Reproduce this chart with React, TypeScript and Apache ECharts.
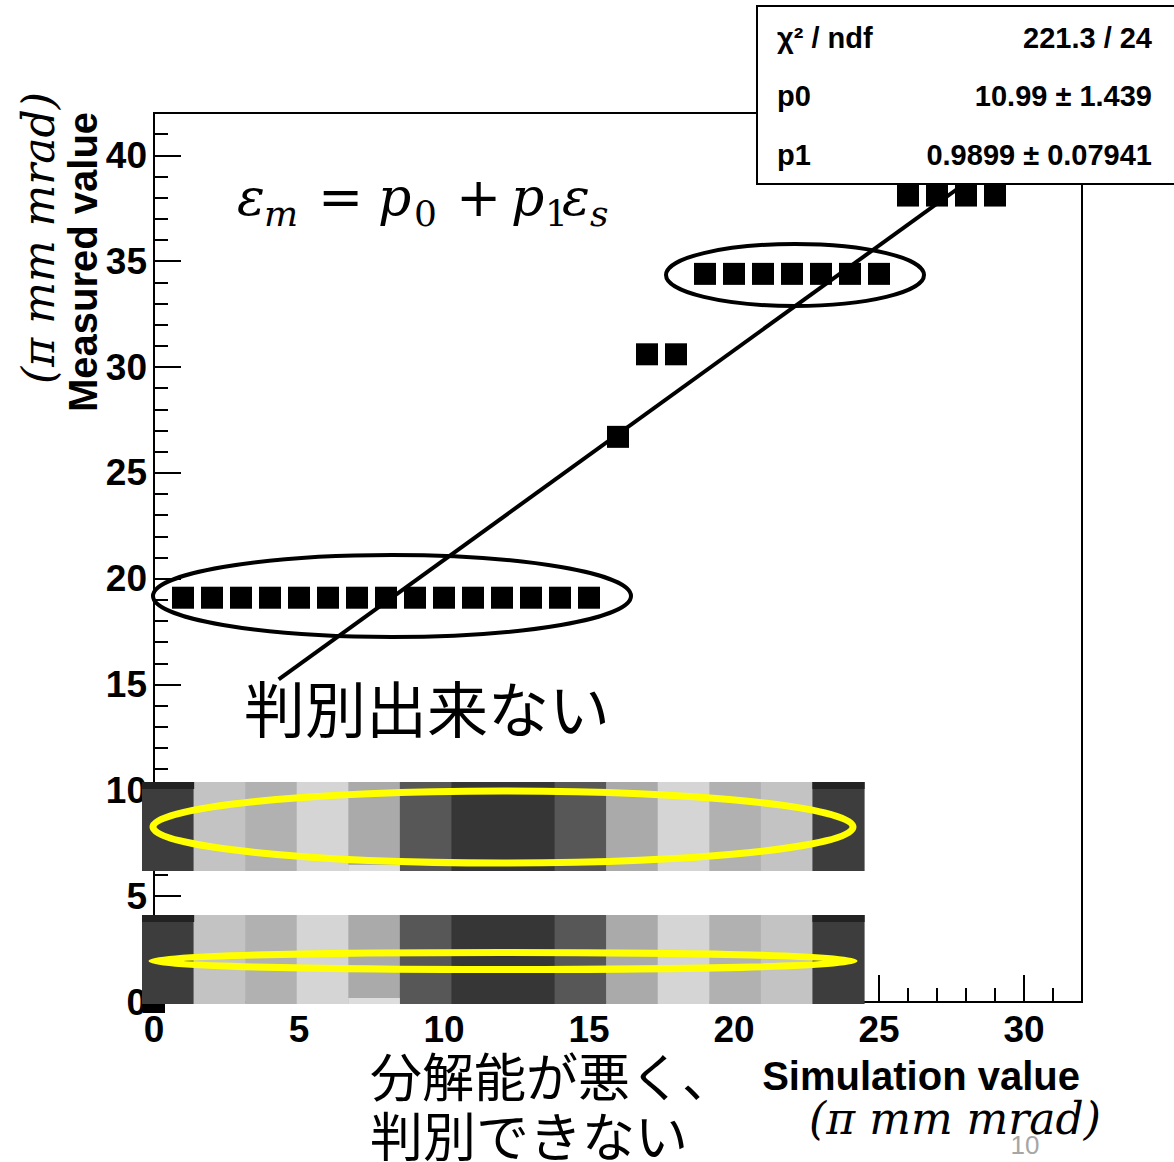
import React, { useEffect, useRef } from "react";
import * as echarts from "echarts";

// ---- data ----
const simX = [0, 1, 2, 3, 4, 5, 6, 7, 8, 9, 10, 11, 12, 13, 14, 15, 16, 17, 18, 19, 20, 21, 22, 23, 24, 25, 26, 27, 28, 29];
const measY = [0, 19.1, 19.1, 19.1, 19.1, 19.1, 19.1, 19.1, 19.1, 19.1, 19.1, 19.1, 19.1, 19.1, 19.1, 19.1, 26.7, 30.6, 30.6, 34.4, 34.4, 34.4, 34.4, 34.4, 34.4, 34.4, 38.1, 38.1, 38.1, 38.1];
const fitParams = [10.99, 0.9899]; // p0, p1
const fitRange = [4.3, 31.3];
const xRange = [0, 32];
const yRange = [0, 42];
const statsRows = [
  ["χ² / ndf", "221.3 / 24"],
  ["p0", "10.99 ± 1.439"],
  ["p1", "0.9899 ± 0.07941"],
];
const stripGrays = ["#3d3d3d", "#c3c3c3", "#b1b1b1", "#d5d5d5", "#aaaaaa", "#575757", "#363636", "#575757", "#aaaaaa", "#d5d5d5", "#b1b1b1", "#c3c3c3", "#3d3d3d"];
const stripWidthUnits = [1, 1, 1, 1, 1, 1, 2, 1, 1, 1, 1, 1, 1];

// ---- layout ----
const GRID = { left: 154, top: 113, width: 928, height: 889 };
const STRIP_X0 = 142;
const STRIP_X1 = 864;
const STRIPS_Y = [782, 915];
const STRIP_H = 89;

const ROOT_FONT = "'Liberation Sans', Arial, sans-serif";
const MATH_FONT = "'DejaVu Serif', serif";
const JP_FONT = "'Noto Sans CJK JP', sans-serif";

function buildStrips(): any[] {
  const els: any[] = [];
  const totalUnits = stripWidthUnits.reduce((a, b) => a + b, 0);
  const unitW = (STRIP_X1 - STRIP_X0) / totalUnits;
  STRIPS_Y.forEach((y0) => {
    let x = STRIP_X0;
    stripGrays.forEach((g, i) => {
      const w = unitW * stripWidthUnits[i];
      els.push({
        type: "rect",
        z: 50,
        shape: { x: x, y: y0, width: w + 0.6, height: STRIP_H },
        style: { fill: g },
      });
      if (i === 0 || i === stripGrays.length - 1) {
        els.push({
          type: "rect",
          z: 51,
          shape: { x: x, y: y0, width: w + 0.6, height: 7 },
          style: { fill: "#222222" },
        });
      }
      if (i === 4) {
        els.push({
          type: "rect",
          z: 51,
          shape: { x: x, y: y0 + STRIP_H - 6, width: w, height: 6 },
          style: { fill: "#dddddd" },
        });
      }
      x += w;
    });
  });
  return els;
}

function mathPiece(text: string, x: number, y: number, size: number): any {
  return {
    type: "text",
    z: 40,
    x,
    y,
    style: {
      text,
      fill: "#000",
      font: `italic ${size}px ${MATH_FONT}`,
      align: "left",
      verticalAlign: "middle",
    },
  };
}
function mathPlain(text: string, x: number, y: number, size: number): any {
  return {
    type: "text",
    z: 40,
    x,
    y,
    style: {
      text,
      fill: "#000",
      font: `${size}px ${MATH_FONT}`,
      align: "left",
      verticalAlign: "middle",
    },
  };
}

export default function App() {
  const ref = useRef<HTMLDivElement>(null);
  useEffect(() => {
    if (!ref.current) return;
    const chart = echarts.init(ref.current, undefined, { renderer: "svg" });
    const points = simX.map((x, i) => [x, measY[i]]);
    const fitLine = fitRange.map((x) => [x, fitParams[0] + fitParams[1] * x]);

    const labelStyle = {
      fontFamily: ROOT_FONT,
      fontWeight: "bold" as const,
      fontSize: 37,
      color: "#000",
    };

    const statsEls: any[] = [
      {
        type: "rect",
        z: 90,
        shape: { x: 757, y: 6, width: 440, height: 178 },
        style: { fill: "#fff", stroke: "#000", lineWidth: 2 },
      },
    ];
    const rowY = [38, 96, 155];
    statsRows.forEach((r, i) => {
      statsEls.push({
        type: "text",
        z: 91,
        x: 777,
        y: rowY[i],
        style: { text: r[0], font: `bold 29px ${ROOT_FONT}`, fill: "#000", align: "left", verticalAlign: "middle" },
      });
      statsEls.push({
        type: "text",
        z: 91,
        x: 1152,
        y: rowY[i],
        style: { text: r[1], font: `bold 29px ${ROOT_FONT}`, fill: "#000", align: "right", verticalAlign: "middle" },
      });
    });

    const graphics: any[] = [
      // black annotation ellipses
      {
        type: "ellipse",
        z: 30,
        shape: { cx: 392, cy: 596, rx: 239, ry: 41 },
        style: { fill: "none", stroke: "#000", lineWidth: 4 },
      },
      {
        type: "ellipse",
        z: 30,
        shape: { cx: 795, cy: 275, rx: 129, ry: 31 },
        style: { fill: "none", stroke: "#000", lineWidth: 4 },
      },
      // formula
      mathPiece("ε", 237, 197, 52),
      mathPiece("m", 264, 213, 36),
      mathPlain("=", 318, 197, 54),
      mathPiece("p", 378, 197, 52),
      mathPlain("0", 414, 213, 36),
      mathPlain("+", 456, 197, 54),
      mathPiece("p", 511, 197, 52),
      mathPlain("1", 545, 213, 36),
      mathPiece("ε", 562, 197, 52),
      mathPiece("s", 590, 213, 36),
      // Japanese annotations
      {
        type: "text",
        z: 40,
        x: 244,
        y: 706,
        style: { text: "判別出来ない", font: `61px ${JP_FONT}`, fill: "#000", align: "left", verticalAlign: "middle" },
      },
      {
        type: "text",
        z: 40,
        x: 370,
        y: 1074,
        style: { text: "分解能が悪く、", font: `52px ${JP_FONT}`, fill: "#000", align: "left", verticalAlign: "middle" },
      },
      {
        type: "text",
        z: 40,
        x: 370,
        y: 1134,
        style: { text: "判別できない", font: `53px ${JP_FONT}`, fill: "#000", align: "left", verticalAlign: "middle" },
      },
      // axis titles
      {
        type: "text",
        z: 40,
        x: 1080,
        y: 1076,
        style: { text: "Simulation value", font: `bold 40px ${ROOT_FONT}`, fill: "#000", align: "right", verticalAlign: "middle" },
      },
      {
        type: "text",
        z: 40,
        x: 955,
        y: 1118,
        style: { text: "(π mm mrad)", font: `italic 44px ${MATH_FONT}`, fill: "#000", align: "center", verticalAlign: "middle" },
      },
      {
        type: "text",
        z: 40,
        x: 83,
        y: 262,
        rotation: Math.PI / 2,
        style: { text: "Measured value", font: `bold 40px ${ROOT_FONT}`, fill: "#000", align: "center", verticalAlign: "middle" },
      },
      {
        type: "text",
        z: 40,
        x: 38,
        y: 238,
        rotation: Math.PI / 2,
        style: { text: "(π mm mrad)", font: `italic 44px ${MATH_FONT}`, fill: "#000", align: "center", verticalAlign: "middle" },
      },
      // slide number
      {
        type: "text",
        z: 40,
        x: 1025,
        y: 1145,
        style: { text: "10", font: `26px ${ROOT_FONT}`, fill: "#a6a6a6", align: "center", verticalAlign: "middle" },
      },
      ...buildStrips(),
      // yellow ellipses
      {
        type: "ellipse",
        z: 60,
        shape: { cx: 503, cy: 827, rx: 350, ry: 36 },
        style: { fill: "none", stroke: "#ffff00", lineWidth: 7 },
      },
      {
        type: "ellipse",
        z: 60,
        shape: { cx: 503, cy: 961, rx: 351, ry: 8.5 },
        style: { fill: "none", stroke: "#ffff00", lineWidth: 7 },
      },
      ...statsEls,
    ];

    chart.setOption({
      animation: false,
      backgroundColor: "#fff",
      grid: {
        left: GRID.left,
        top: GRID.top,
        width: GRID.width,
        height: GRID.height,
        show: true,
        borderColor: "#000",
        borderWidth: 2,
        backgroundColor: "transparent",
      },
      xAxis: [
        {
          type: "value",
          min: xRange[0],
          max: xRange[1],
          interval: 5,
          position: "bottom",
          axisLine: { show: true, lineStyle: { color: "#000", width: 2 } },
          axisTick: { show: true, inside: true, length: 27, lineStyle: { color: "#000", width: 2 } },
          axisLabel: { ...labelStyle, margin: 9, showMaxLabel: false },
          splitLine: { show: false },
        },
        {
          type: "value",
          min: xRange[0],
          max: xRange[1],
          interval: 1,
          position: "bottom",
          axisLine: { show: false },
          axisTick: { show: true, inside: true, length: 14, lineStyle: { color: "#000", width: 2 } },
          axisLabel: { show: false },
          splitLine: { show: false },
        },
      ],
      yAxis: [
        {
          type: "value",
          min: yRange[0],
          max: yRange[1],
          interval: 5,
          position: "left",
          axisLine: { show: true, lineStyle: { color: "#000", width: 2 } },
          axisTick: { show: true, inside: true, length: 27, lineStyle: { color: "#000", width: 2 } },
          axisLabel: { ...labelStyle, margin: 7, showMaxLabel: false },
          splitLine: { show: false },
        },
        {
          type: "value",
          min: yRange[0],
          max: yRange[1],
          interval: 1,
          position: "left",
          axisLine: { show: false },
          axisTick: { show: true, inside: true, length: 14, lineStyle: { color: "#000", width: 2 } },
          axisLabel: { show: false },
          splitLine: { show: false },
        },
      ],
      series: [
        {
          type: "scatter",
          xAxisIndex: 0,
          yAxisIndex: 0,
          symbol: "rect",
          symbolSize: 22,
          itemStyle: { color: "#000", opacity: 1 },
          data: points,
          z: 3,
        },
        {
          type: "line",
          xAxisIndex: 0,
          yAxisIndex: 0,
          data: fitLine,
          showSymbol: false,
          symbol: "none",
          lineStyle: { color: "#000", width: 4 },
          z: 4,
        },
      ],
      graphic: { elements: graphics },
    });
    return () => chart.dispose();
  }, []);

  return (
    <div
      ref={ref}
      style={{ position: "fixed", left: 0, top: 0, width: 1174, height: 1162, background: "#fff" }}
    />
  );
}
